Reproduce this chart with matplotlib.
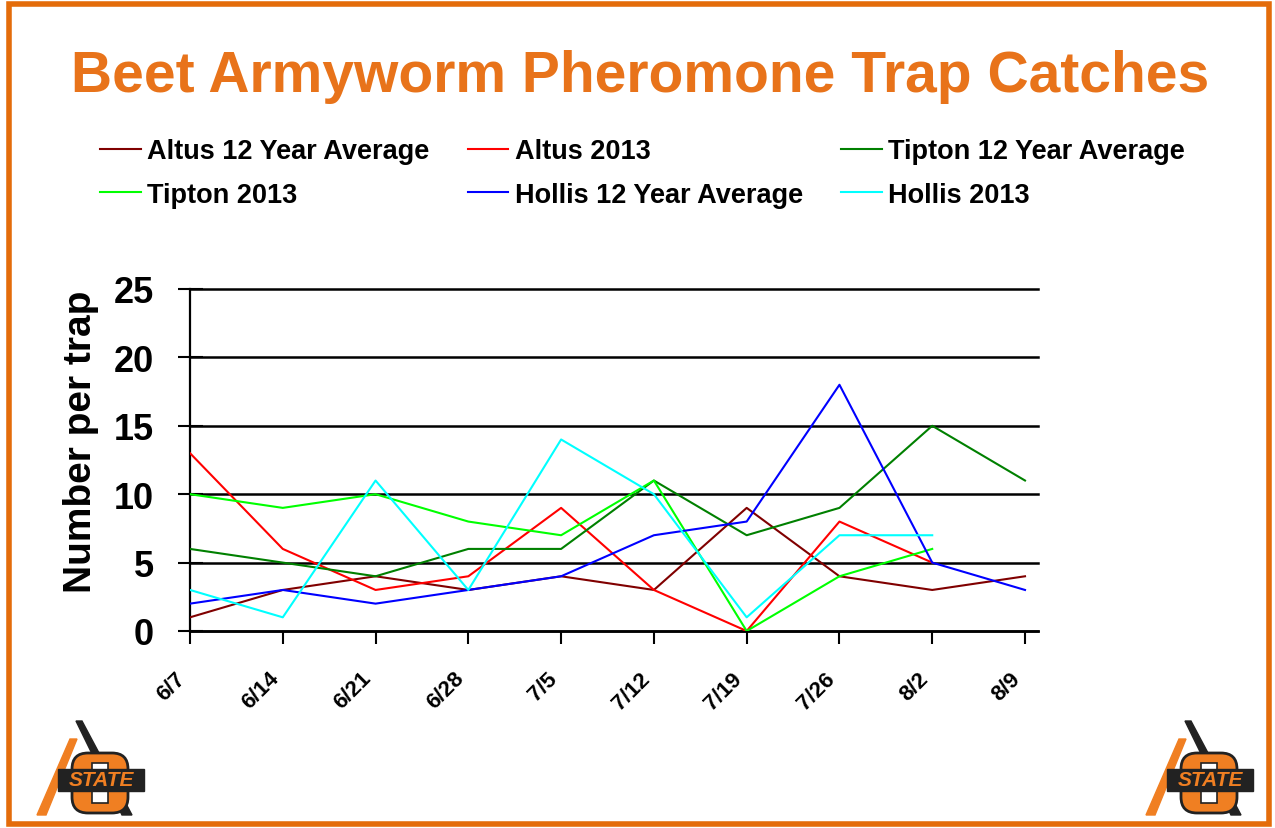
import numpy as np
import matplotlib
matplotlib.use("Agg")
import matplotlib.pyplot as plt
from matplotlib.patches import Rectangle, Polygon, FancyBboxPatch

plt.rcParams['font.family'] = ['Liberation Sans', 'DejaVu Sans']

# data
dates = ['6/7', '6/14', '6/21', '6/28', '7/5', '7/12', '7/19', '7/26', '8/2', '8/9']
altus_avg = [1, 3, 4, 3, 4, 3, 9, 4, 3, 4]
altus_2013 = [13, 6, 3, 4, 9, 3, 0, 8, 5]
tipton_avg = [6, 5, 4, 6, 6, 11, 7, 9, 15, 11]
tipton_2013 = [10, 9, 10, 8, 7, 11, 0, 4, 6]
hollis_avg = [2, 3, 2, 3, 4, 7, 8, 18, 5, 3]
hollis_2013 = [3, 1, 11, 3, 14, 10, 1, 7, 7]

series = [
    ('Altus 12 Year Average', altus_avg, '#800000'),
    ('Altus 2013', altus_2013, '#FF0000'),
    ('Tipton 12 Year Average', tipton_avg, '#008000'),
    ('Tipton 2013', tipton_2013, '#00FF00'),
    ('Hollis 12 Year Average', hollis_avg, '#0000FF'),
    ('Hollis 2013', hollis_2013, '#00FFFF'),
]

orange = '#E46C0A'

fig = plt.figure(figsize=(12.75, 8.29), dpi=100)
ax = fig.add_axes([190 / 1275, 1 - 632 / 829, 848 / 1275, 342 / 829])

handles = {}
for name, vals, col in series:
    x = np.arange(len(vals))
    ln, = ax.plot(x, vals, color=col, lw=1.5, label=name, zorder=3)
    handles[name] = ln

ax.set_xlim(0, 9.14)
ax.set_ylim(0, 25)
ax.set_yticks(range(0, 26, 5))
ax.set_xticks(range(len(dates)))
ax.set_xticklabels(dates, rotation=45, ha='right', va='bottom',
                   rotation_mode='anchor', fontsize=16, fontweight='bold')
ax.tick_params(axis='y', direction='inout', length=18, width=1.5, labelsize=26, pad=17)
ax.tick_params(axis='x', direction='out', length=9, width=1.5, pad=28)
for lab in ax.get_yticklabels():
    lab.set_fontweight('bold')
ax.grid(axis='y', color='black', lw=1.8, zorder=1)
for gl in ax.get_ygridlines():
    gl.set_clip_on(False)
for s in ['top', 'right']:
    ax.spines[s].set_visible(False)
ax.spines['left'].set_linewidth(1.6)
ax.spines['bottom'].set_linewidth(1.8)
ax.set_ylabel('Number per trap', fontsize=28, fontweight='bold')
ax.yaxis.set_label_coords(-0.107, 0.555)

# title
fig.text(0.502, 1 - 77 / 829, 'Beet Armyworm Pheromone Trap Catches', ha='center', va='center',
         fontsize=41, fontweight='bold', color='#E8731A')

# legend, rows filled left to right
order = ['Altus 12 Year Average', 'Tipton 2013', 'Altus 2013',
         'Hollis 12 Year Average', 'Tipton 12 Year Average', 'Hollis 2013']
leg = fig.legend([handles[k] for k in order], order, ncol=3, frameon=False,
                 loc='upper left', bbox_to_anchor=(100 / 1275, 1 - 139 / 829),
                 prop={'size': 19.5, 'weight': 'bold'}, handlelength=1.5,
                 handletextpad=0.25, columnspacing=1.4, labelspacing=0.65,
                 borderaxespad=0, borderpad=0)

# slide border
fig.add_artist(Rectangle((9 / 1275, 4 / 829), 1260 / 1275, 820 / 829, transform=fig.transFigure,
                         fill=False, ec=orange, lw=4))


def draw_logo(x0, y0):
    lax = fig.add_axes([x0 / 1275, 1 - (y0 + 100) / 829, 115 / 1275, 100 / 829])
    lax.set_xlim(0, 115)
    lax.set_ylim(0, 100)
    lax.axis('off')
    lax.add_patch(Polygon([[44, 96], [50, 96], [100, 2], [90, 2]], color='#222222'))
    lax.add_patch(Polygon([[38, 78], [45, 78], [14, 2], [5, 2]], color='#F07F22'))
    lax.add_patch(FancyBboxPatch((42, 6), 52, 56, boxstyle='round,pad=2,rounding_size=16',
                                 fc='#F07F22', ec='#222222', lw=2))
    lax.add_patch(Rectangle((60, 14), 16, 40, fc='white', ec='#222222', lw=1.2))
    lax.add_patch(Rectangle((26, 26), 86, 22, fc='#222222', ec='#222222'))
    lax.text(69, 37, 'STATE', ha='center', va='center', fontsize=15, fontweight='bold',
             style='italic', color='#F07F22')


draw_logo(32, 718)
draw_logo(1141, 718)

fig.savefig('out.png', dpi=100)
